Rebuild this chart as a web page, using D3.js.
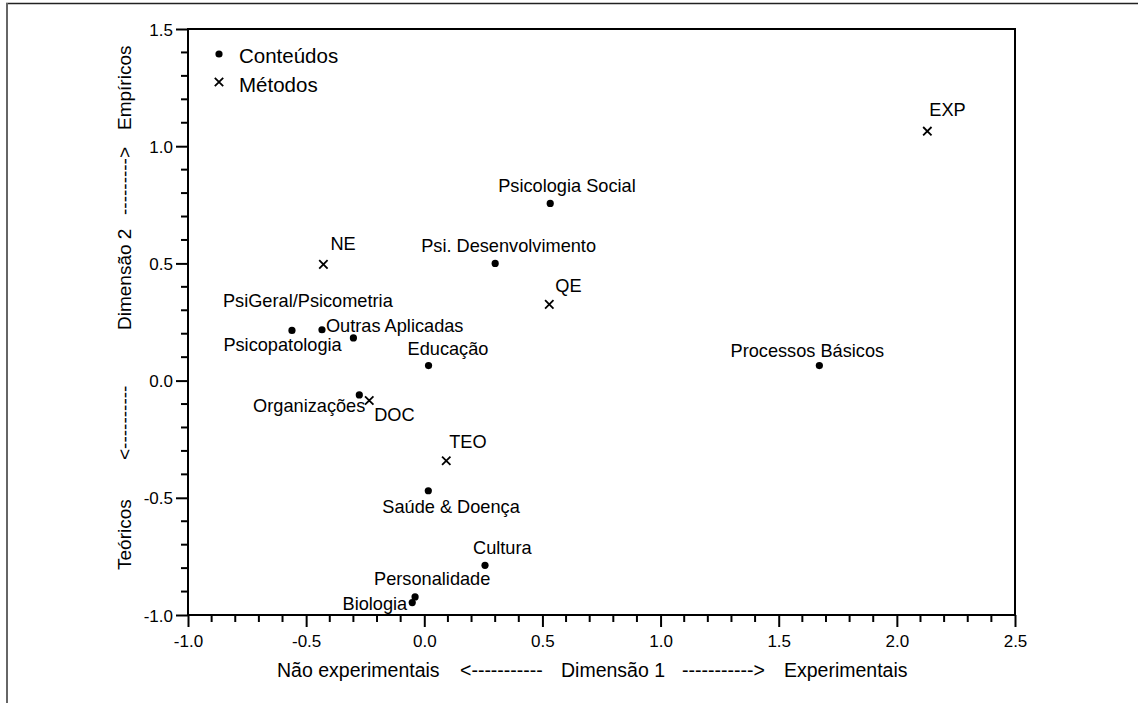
<!DOCTYPE html>
<html><head><meta charset="utf-8">
<script src="https://cdn.jsdelivr.net/npm/d3@7"></script>
<style>
html,body{margin:0;padding:0;background:#fff;}
svg{display:block;font-family:"Liberation Sans",Arial,sans-serif;}
</style></head>
<body>
<svg id="c" width="1138" height="703"></svg>
<script>
// ---- data ----
const contentNames = ["Psicologia Social","Psi. Desenvolvimento","PsiGeral/Psicometria","Outras Aplicadas","Psicopatologia","Educação","Processos Básicos","Organizações","Saúde & Doença","Cultura","Personalidade","Biologia"];
const contentX = [0.533, 0.300, -0.560, -0.433, -0.300, 0.018, 1.672, -0.275, 0.017, 0.257, -0.039, -0.051];
const contentY = [0.756, 0.500, 0.214, 0.217, 0.182, 0.064, 0.064, -0.061, -0.470, -0.788, -0.923, -0.947];
const methodNames = ["EXP","NE","QE","DOC","TEO"];
const methodX = [2.129, -0.427, 0.529, -0.233, 0.093];
const methodY = [1.064, 0.496, 0.325, -0.085, -0.342];
const xTicks = [-1.0, -0.5, 0.0, 0.5, 1.0, 1.5, 2.0, 2.5];
const yTicks = [-1.0, -0.5, 0.0, 0.5, 1.0, 1.5];
const legendLabels = ["Conteúdos", "Métodos"];
const xTitleParts = ["Não experimentais", "<-----------", "Dimensão 1", "----------->", "Experimentais"];
const yTitleParts = ["Teóricos", "<----------", "Dimensão 2", "--------->", "Empíricos"];

// ---- layout (label placement: anchor, dx, dy in px) ----
const contentLabelPos = [["start",-52,-11],["start",-74,-11],["start",-69,-23],["start",4,2],["start",-130,13],["start",-21,-11],["middle",-12,-9],["end",6,17],["start",-46,22],["start",-12,-11],["start",-41,-12],["end",-5,7]];
const methodLabelPos = [["start",2,-15],["start",7,-14],["start",6,-12],["start",5,20],["start",3,-13]];

const svg = d3.select("#c");
const L = 188, R = 1015, T = 29, B = 615;
const x = d3.scaleLinear().domain([-1, 2.5]).range([L, R]);
const y = d3.scaleLinear().domain([-1, 1.5]).range([B, T]);

// outer page frame
svg.append("line").attr("x1",6).attr("x2",1138).attr("y1",3.5).attr("y2",3.5).attr("stroke","#222").attr("stroke-width",1.5);
svg.append("line").attr("x1",7).attr("x2",7).attr("y1",3).attr("y2",703).attr("stroke","#666").attr("stroke-width",2);

// minor ticks
const xMinor = d3.range(-1, 2.5001, 0.1).filter(v => Math.abs(v*2 - Math.round(v*2)) > 1e-6);
const yMinor = d3.range(-1, 1.5001, 0.1).filter(v => Math.abs(v*2 - Math.round(v*2)) > 1e-6);
svg.append("g").selectAll("line").data(xMinor).join("line")
  .attr("x1", d => x(d)).attr("x2", d => x(d)).attr("y1", B).attr("y2", B + 7)
  .attr("stroke","#000").attr("stroke-width",2);
svg.append("g").selectAll("line").data(yMinor).join("line")
  .attr("y1", d => y(d)).attr("y2", d => y(d)).attr("x1", L).attr("x2", L - 7)
  .attr("stroke","#000").attr("stroke-width",2);

// axes
const xAxis = svg.append("g").attr("transform",`translate(0,${B})`)
  .call(d3.axisBottom(x).tickValues(xTicks).tickSize(12).tickSizeOuter(0).tickFormat(d => d.toFixed(1)));
const yAxis = svg.append("g").attr("transform",`translate(${L},0)`)
  .call(d3.axisLeft(y).tickValues(yTicks).tickSize(12).tickSizeOuter(0).tickFormat(d => d.toFixed(1)));
[xAxis, yAxis].forEach(g => {
  g.select(".domain").remove();
  g.selectAll(".tick line").attr("stroke","#000").attr("stroke-width",2);
  g.selectAll(".tick text").attr("fill","#000").attr("font-size",17).attr("font-family","Liberation Sans, Arial, sans-serif");
});
xAxis.selectAll(".tick text").attr("y",32).attr("dy",0);
yAxis.selectAll(".tick text").attr("x",-15).attr("dy","0.36em");

// frame lines
svg.append("line").attr("x1",L).attr("x2",R).attr("y1",B).attr("y2",B).attr("stroke","#000").attr("stroke-width",2);
svg.append("line").attr("x1",L).attr("x2",L).attr("y1",T).attr("y2",B+1).attr("stroke","#000").attr("stroke-width",2);
svg.append("line").attr("x1",L-1).attr("x2",R+1).attr("y1",T).attr("y2",T).attr("stroke","#000").attr("stroke-width",2);
svg.append("line").attr("x1",R).attr("x2",R).attr("y1",T).attr("y2",B).attr("stroke","#000").attr("stroke-width",2);

// axis titles
const xTitleStarts = [277, 460, 561, 682, 784];
svg.append("g").selectAll("text").data(xTitleParts).join("text")
  .attr("x",(d,i)=>xTitleStarts[i]).attr("y",677).attr("font-size",19.5).attr("fill","#000").text(d=>d);
const yTitleStarts = [570, 460, 330, 215, 130];
svg.append("g").selectAll("text").data(yTitleParts).join("text")
  .attr("transform",(d,i)=>`translate(131,${yTitleStarts[i]}) rotate(-90)`)
  .attr("font-size",19).attr("fill","#000").text(d=>d);

// symbols
const cross = (g, cx, cy, s) => {
  g.append("path").attr("d",`M${cx-s},${cy-s}L${cx+s},${cy+s}M${cx-s},${cy+s}L${cx+s},${cy-s}`)
   .attr("stroke","#000").attr("stroke-width",1.8).attr("fill","none");
};

// content points
const cg = svg.append("g");
contentNames.forEach((n,i) => {
  cg.append("circle").attr("cx", x(contentX[i])).attr("cy", y(contentY[i])).attr("r",3.6).attr("fill","#000");
  const p = contentLabelPos[i];
  cg.append("text").attr("x", x(contentX[i]) + p[1]).attr("y", y(contentY[i]) + p[2])
    .attr("text-anchor", p[0]).attr("font-size",18.2).attr("fill","#000").text(n);
});
// method points
const mg = svg.append("g");
methodNames.forEach((n,i) => {
  cross(mg, x(methodX[i]), y(methodY[i]), 4.2);
  const p = methodLabelPos[i];
  mg.append("text").attr("x", x(methodX[i]) + p[1]).attr("y", y(methodY[i]) + p[2])
    .attr("text-anchor", p[0]).attr("font-size",18.2).attr("fill","#000").text(n);
});

// legend
const lg = svg.append("g");
lg.append("circle").attr("cx",219).attr("cy",54).attr("r",3.6).attr("fill","#000");
cross(lg, 219, 82, 4.2);
lg.selectAll("text").data(legendLabels).join("text")
  .attr("x",239).attr("y",(d,i)=>63 + i*28.5).attr("font-size",20.5).attr("fill","#000").text(d=>d);
</script>
</body></html>
